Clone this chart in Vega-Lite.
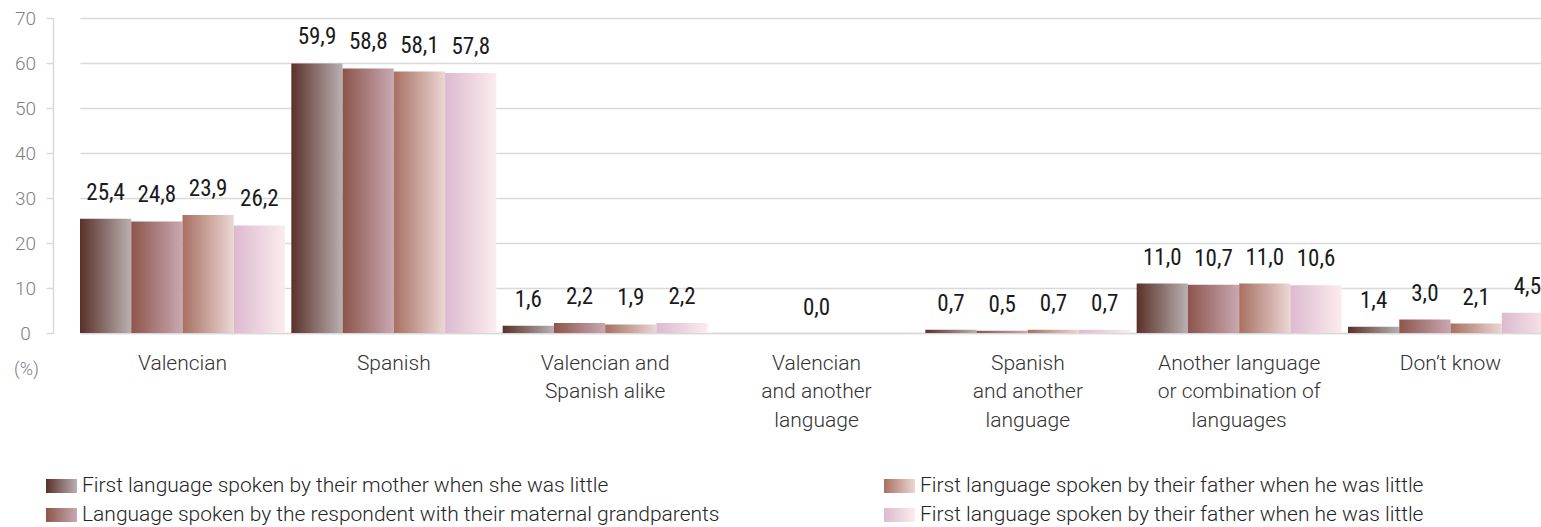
{
  "$schema": "https://vega.github.io/schema/vega-lite/v6.json",
  "width": 1488,
  "height": 315,
  "autosize": {"type": "none"},
  "padding": {"left": 53, "top": 18, "right": 0, "bottom": 194},
  "background": "white",
  "config": {"view": {"stroke": null}, "font": "Roboto"},
  "data": {
    "values": [
      {"category": "Valencian", "series": "First language spoken by their mother when she was little", "value": 25.4, "label": "25,4"},
      {"category": "Valencian", "series": "Language spoken by the respondent with their maternal grandparents", "value": 24.8, "label": "24,8"},
      {"category": "Valencian", "series": "First language spoken by their father when he was little", "value": 26.2, "label": "23,9"},
      {"category": "Valencian", "series": "First language spoken by their father when he was little\u200b", "value": 23.9, "label": "26,2"},
      {"category": "Spanish", "series": "First language spoken by their mother when she was little", "value": 59.9, "label": "59,9"},
      {"category": "Spanish", "series": "Language spoken by the respondent with their maternal grandparents", "value": 58.8, "label": "58,8"},
      {"category": "Spanish", "series": "First language spoken by their father when he was little", "value": 58.1, "label": "58,1"},
      {"category": "Spanish", "series": "First language spoken by their father when he was little\u200b", "value": 57.8, "label": "57,8"},
      {"category": "Valencian and\nSpanish alike", "series": "First language spoken by their mother when she was little", "value": 1.6, "label": "1,6"},
      {"category": "Valencian and\nSpanish alike", "series": "Language spoken by the respondent with their maternal grandparents", "value": 2.2, "label": "2,2"},
      {"category": "Valencian and\nSpanish alike", "series": "First language spoken by their father when he was little", "value": 1.9, "label": "1,9"},
      {"category": "Valencian and\nSpanish alike", "series": "First language spoken by their father when he was little\u200b", "value": 2.2, "label": "2,2"},
      {"category": "Valencian\nand another\nlanguage", "series": "First language spoken by their mother when she was little", "value": 0, "label": "0,0"},
      {"category": "Valencian\nand another\nlanguage", "series": "Language spoken by the respondent with their maternal grandparents", "value": 0, "label": "0,0"},
      {"category": "Valencian\nand another\nlanguage", "series": "First language spoken by their father when he was little", "value": 0, "label": "0,0"},
      {"category": "Valencian\nand another\nlanguage", "series": "First language spoken by their father when he was little\u200b", "value": 0, "label": "0,0"},
      {"category": "Spanish\nand another\nlanguage", "series": "First language spoken by their mother when she was little", "value": 0.7, "label": "0,7"},
      {"category": "Spanish\nand another\nlanguage", "series": "Language spoken by the respondent with their maternal grandparents", "value": 0.5, "label": "0,5"},
      {"category": "Spanish\nand another\nlanguage", "series": "First language spoken by their father when he was little", "value": 0.7, "label": "0,7"},
      {"category": "Spanish\nand another\nlanguage", "series": "First language spoken by their father when he was little\u200b", "value": 0.7, "label": "0,7"},
      {"category": "Another language\nor combination of\nlanguages", "series": "First language spoken by their mother when she was little", "value": 11.0, "label": "11,0"},
      {"category": "Another language\nor combination of\nlanguages", "series": "Language spoken by the respondent with their maternal grandparents", "value": 10.7, "label": "10,7"},
      {"category": "Another language\nor combination of\nlanguages", "series": "First language spoken by their father when he was little", "value": 11.0, "label": "11,0"},
      {"category": "Another language\nor combination of\nlanguages", "series": "First language spoken by their father when he was little\u200b", "value": 10.6, "label": "10,6"},
      {"category": "Don’t know", "series": "First language spoken by their mother when she was little", "value": 1.4, "label": "1,4"},
      {"category": "Don’t know", "series": "Language spoken by the respondent with their maternal grandparents", "value": 3.0, "label": "3,0"},
      {"category": "Don’t know", "series": "First language spoken by their father when he was little", "value": 2.1, "label": "2,1"},
      {"category": "Don’t know", "series": "First language spoken by their father when he was little\u200b", "value": 4.5, "label": "4,5"}
    ]
  },
  "encoding": {
    "x": {
      "field": "category",
      "type": "nominal",
      "sort": null,
      "scale": {"range": [27, 1500], "paddingInner": 0.03, "paddingOuter": 0},
      "axis": {
        "title": null,
        "labelExpr": "split(datum.label, '\\n')",
        "labelAngle": 0,
        "ticks": false,
        "domainColor": "#d9d9d9",
        "domainWidth": 1.5,
        "labelFont": "Roboto",
        "labelFontWeight": 300,
        "labelFontSize": 21,
        "labelColor": "#333333",
        "labelLineHeight": 28.5,
        "labelPadding": 19,
        "labelBaseline": "top",
        "labelLimit": 0
      }
    },
    "y": {
      "field": "value",
      "type": "quantitative",
      "scale": {"domain": [0, 70]},
      "axis": {
        "values": [0, 10, 20, 30, 40, 50, 60, 70],
        "title": "(%)",
        "titleAngle": 0,
        "titleX": -27,
        "titleY": 351,
        "titleAlign": "center",
        "titleBaseline": "middle",
        "titleFont": "Roboto",
        "titleFontWeight": 300,
        "titleFontSize": 18,
        "titleColor": "#7f7f7f",
        "labelFont": "Roboto",
        "labelFontWeight": 300,
        "labelFontSize": 19,
        "labelColor": "#7f7f7f",
        "labelAlign": "center",
        "labelPadding": 21,
        "tickSize": 7,
        "tickColor": "#d9d9d9",
        "tickWidth": 1.5,
        "domainColor": "#d9d9d9",
        "domainWidth": 1.5,
        "gridColor": "#d9d9d9",
        "gridWidth": 1.5
      }
    }
  },
  "layer": [
    {
      "mark": {"type": "bar"},
      "encoding": {
        "xOffset": {
          "field": "series",
          "type": "nominal",
          "scale": {
            "domain": [
              "First language spoken by their mother when she was little",
              "Language spoken by the respondent with their maternal grandparents",
              "First language spoken by their father when he was little",
              "First language spoken by their father when he was little\u200b"
            ],
            "paddingInner": 0,
            "paddingOuter": 0
          }
        },
        "color": {
          "field": "series",
          "type": "nominal",
          "scale": {
            "domain": [
              "First language spoken by their mother when she was little",
              "Language spoken by the respondent with their maternal grandparents",
              "First language spoken by their father when he was little",
              "First language spoken by their father when he was little\u200b"
            ],
            "range": [
              {"expr": "{gradient: 'linear', x1: 0, y1: 0, x2: 1, y2: 0, stops: [{offset: 0, color: '#5a3128'}, {offset: 1, color: '#bab0b2'}]}"},
              {"expr": "{gradient: 'linear', x1: 0, y1: 0, x2: 1, y2: 0, stops: [{offset: 0, color: '#8c554b'}, {offset: 1, color: '#c9a8b2'}]}"},
              {"expr": "{gradient: 'linear', x1: 0, y1: 0, x2: 1, y2: 0, stops: [{offset: 0, color: '#a87062'}, {offset: 1, color: '#ecd7d4'}]}"},
              {"expr": "{gradient: 'linear', x1: 0, y1: 0, x2: 1, y2: 0, stops: [{offset: 0, color: '#dcbacf'}, {offset: 1, color: '#fcecee'}]}"}
            ]
          },
          "legend": {
            "orient": "none",
            "legendX": -7,
            "legendY": 454,
            "direction": "horizontal",
            "columns": 2,
            "columnPadding": 164,
            "rowPadding": 5,
            "title": null,
            "values": [
              "First language spoken by their mother when she was little",
              "First language spoken by their father when he was little",
              "Language spoken by the respondent with their maternal grandparents",
              "First language spoken by their father when he was little\u200b"
            ],
            "symbolType": "M-1,-0.5H1.214V0.5H-1Z",
            "symbolSize": 784,
            "symbolStrokeWidth": 0,
            "labelFont": "Roboto",
            "labelFontWeight": 300,
            "labelFontSize": 21,
            "labelColor": "#262626",
            "labelOffset": 8,
            "labelLimit": 0
          }
        }
      }
    },
    {
      "transform": [{"filter": {"not": {"field": "category", "equal": "Valencian\nand another\nlanguage"}}}],
      "mark": {"type": "text", "font": "Roboto Condensed, Liberation Sans Narrow, Roboto", "fontSize": 23, "color": "#1a1a1a", "baseline": "alphabetic", "dy": -19},
      "encoding": {
        "xOffset": {"field": "series", "type": "nominal"},
        "text": {"field": "label"}
      }
    },
    {
      "transform": [
        {"filter": {"field": "category", "equal": "Valencian\nand another\nlanguage"}},
        {"filter": {"field": "series", "equal": "First language spoken by their mother when she was little"}}
      ],
      "mark": {"type": "text", "font": "Roboto Condensed, Liberation Sans Narrow, Roboto", "fontSize": 23, "color": "#1a1a1a", "baseline": "alphabetic", "dy": -18},
      "encoding": {
        "text": {"field": "label"}
      }
    }
  ]
}
